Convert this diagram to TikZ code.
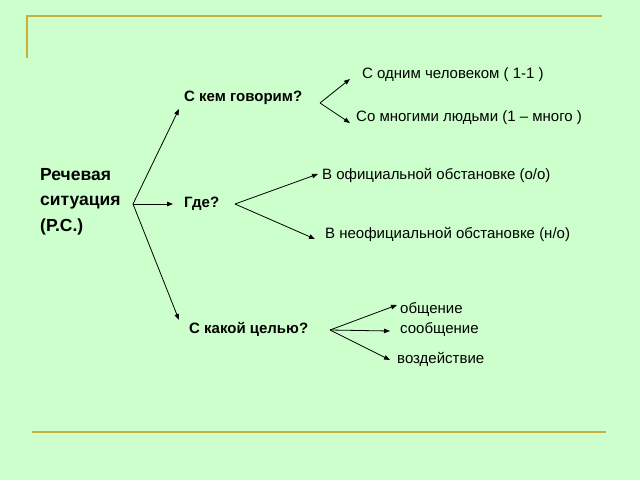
\documentclass[tikz,border=0pt]{standalone}
\usepackage{fontspec}
\setmainfont{Liberation Sans}
\usetikzlibrary{arrows.meta,calc}
\definecolor{bg}{HTML}{CCFFCC}
\definecolor{rule}{HTML}{C8B040}
\begin{document}
\begin{tikzpicture}[x=1pt,y=-1pt,
  txt/.style={anchor=west,inner sep=0pt,font=\fontsize{15}{17}\selectfont},
  q/.style={anchor=west,inner sep=0pt,font=\bfseries\fontsize{15}{17}\selectfont},
  arr/.style={-{Triangle[length=6pt,width=4.5pt]},line width=0.8pt}]
\fill[bg] (0,0) rectangle (640,480);
\useasboundingbox (0,0) rectangle (640,480);
\draw[rule,line width=1.6pt] (27,58) -- (27,16) -- (602,16);
\draw[rule,line width=1.6pt] (32,432) -- (606,432);
% root
\node[anchor=north west,inner sep=0pt,align=left,font=\bfseries\fontsize{17.5}{25.5}\selectfont] (rs) at (40,168) {Речевая\\ситуация\\(Р.С.)};
\coordinate (f0) at (133,204);
\node[q] (k) at (184,98) {С кем говорим?};
\node[q] (g) at (184,204) {Где?};
\node[q] (c) at (189,329) {С какой целью?};
\draw[arr] (f0) -- ($(k.west)+(-5,11)$);
\draw[arr] (f0) -- ($(g.west)+(-11,0)$);
\draw[arr] (f0) -- ($(c.west)+(-10,-9)$);
% who
\coordinate (f1) at (320,103);
\node[txt] (a1) at (362,75) {С одним человеком ( 1-1 )};
\node[txt] (a2) at (356,118) {Со многими людьми (1 – много )};
\draw[arr] (f1) -- ($(a1.west)+(-12,4)$);
\draw[arr] (f1) -- ($(a2.west)+(-6,5)$);
% where
\coordinate (f2) at (235,204);
\node[txt] (b1) at (322,175) {В официальной обстановке (о/о)};
\node[txt] (b2) at (325,234) {В неофициальной обстановке (н/о)};
\draw[arr] (f2) -- ($(b1.west)+(-4,-1)$);
\draw[arr] (f2) -- ($(b2.west)+(-10,5)$);
% aim
\coordinate (f3) at (330,330);
\node[txt] (c1) at (400,309) {общение};
\node[txt] (c2) at (400,329) {сообщение};
\node[txt] (c3) at (397,359) {воздействие};
\draw[arr] (f3) -- ($(c1.west)+(-3,-4)$);
\draw[arr] (f3) -- ($(c2.west)+(-10,2)$);
\draw[arr] (f3) -- ($(c3.west)+(-7,1)$);
\end{tikzpicture}
\end{document}
